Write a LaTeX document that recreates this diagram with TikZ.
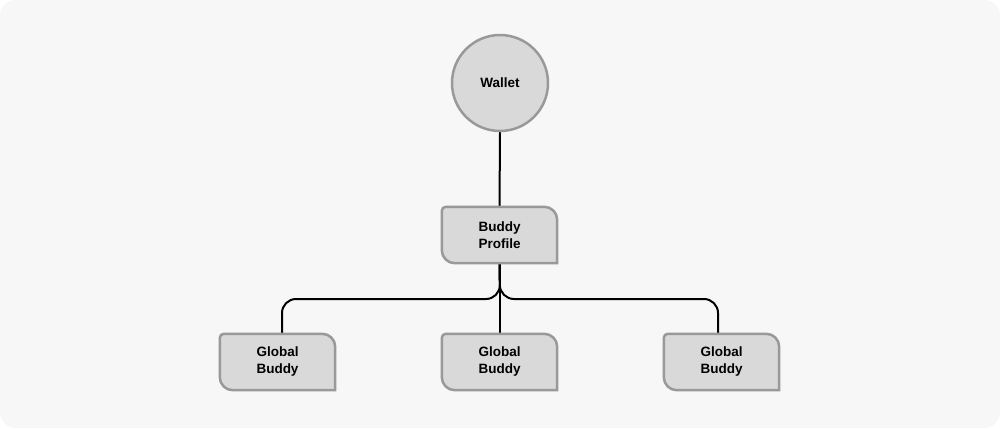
\documentclass[tikz,border=0pt]{standalone}
\usepackage{fontspec}
\setmainfont{Liberation Sans}
\usetikzlibrary{calc}
\definecolor{bgc}{HTML}{F7F7F7}
\definecolor{boxfill}{HTML}{D9D9D9}
\definecolor{boxline}{HTML}{999999}
\tikzset{
  txt/.style={inner sep=0pt, minimum width=115pt, minimum height=56pt, align=center,
    font=\fontsize{13.5pt}{17pt}\selectfont\bfseries, text=black},
  boxshape/.style={draw=boxline, fill=boxfill, line width=2.5pt},
  circ/.style={circle, draw=boxline, fill=boxfill, line width=2.5pt, minimum size=96pt, inner sep=0pt,
    font=\fontsize{13.5pt}{17pt}\selectfont\bfseries},
  conn/.style={draw=black, line width=2pt}
}
\newcommand{\oddbox}[1]{%
  \path[boxshape] ([xshift=4pt]#1.north west) -- ([xshift=-13pt]#1.north east)
    arc[start angle=90, end angle=0, radius=13pt] -- (#1.south east)
    -- ([xshift=13pt]#1.south west) arc[start angle=270, end angle=180, radius=13pt]
    -- ([yshift=-4pt]#1.north west) arc[start angle=180, end angle=90, radius=4pt] -- cycle;}
\begin{document}
\begin{tikzpicture}[x=1pt, y=-1pt]
  \fill[white] (0,0) rectangle (1000,428);
  \useasboundingbox (0,0) rectangle (1000,428);
  \fill[bgc, rounded corners=16pt] (0,0) rectangle (1000,428);

  \node[circ] (w) at (500,83) {Wallet};
  \node[txt] (bp) at (499.5,235) {};
  \node[txt] (g1) at (277.5,362) {};
  \node[txt] (g2) at (499.5,362) {};
  \node[txt] (g3) at (721.5,362) {};

  \coordinate (j) at (500,299);
  \draw[conn] (w.south) -- (bp.north);
  \draw[conn] (bp.south) -- (g2.north);
  \draw[conn, rounded corners=14pt] (bp.south) -- (j) -- (j -| 282,0) -- ([xshift=4.5pt]g1.north);
  \draw[conn, rounded corners=14pt] (bp.south) -- (j) -- (j -| 718,0) -- ([xshift=-3.5pt]g3.north);

  \oddbox{bp}\oddbox{g1}\oddbox{g2}\oddbox{g3}
  \node[txt] at (bp) {Buddy\\Profile};
  \node[txt] at (g1) {Global\\Buddy};
  \node[txt] at (g2) {Global\\Buddy};
  \node[txt] at (g3) {Global\\Buddy};
\end{tikzpicture}
\end{document}
